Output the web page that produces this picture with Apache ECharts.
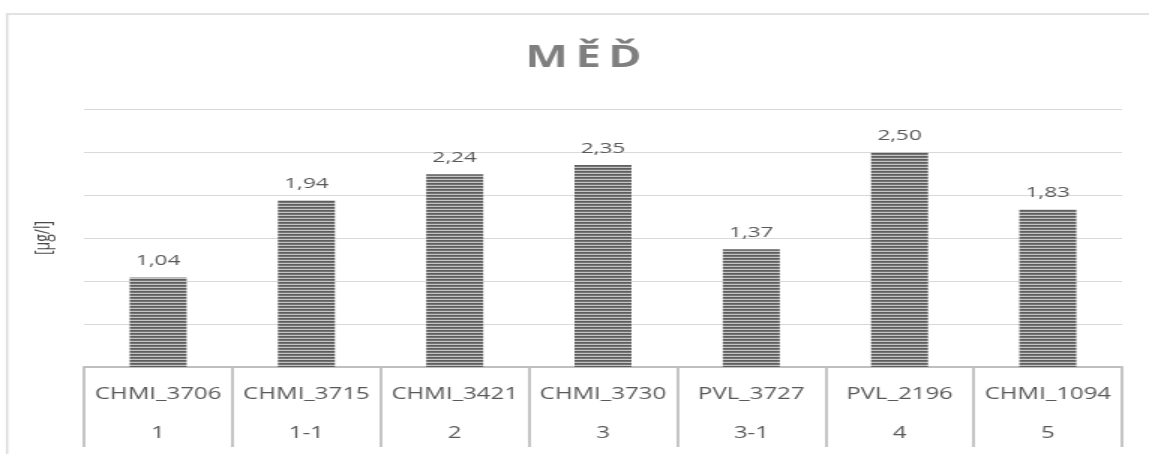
<!DOCTYPE html>
<html>
<head>
<meta charset="utf-8">
<script src="https://cdn.jsdelivr.net/npm/echarts@6/dist/echarts.min.js"></script>
<style>
  html, body { margin: 0; padding: 0; background: #ffffff; overflow: hidden; }
  #wrap { width: 1149px; height: 454px; overflow: hidden; }
  /* the chart is laid out on a narrower canvas and widened, giving the broad lettering */
  #chart { width: 766px; height: 454px; transform: scaleX(1.5); transform-origin: 0 0; }
</style>
</head>
<body>
<div id="wrap"><div id="chart"></div></div>
<script>
// Měď – sampling points
const stations = ['CHMI_3706', 'CHMI_3715', 'CHMI_3421', 'CHMI_3730', 'PVL_3727', 'PVL_2196', 'CHMI_1094'];
const profiles = ['1', '1-1', '2', '3', '3-1', '4', '5'];
const copper = [1.04, 1.94, 2.24, 2.35, 1.37, 2.50, 1.83];
const yTicks = [0, 0.5, 1, 1.5, 2, 2.5, 3];
const titleText = 'MĚĎ';

// horizontal stripe fill for the bars
function stripeFill() {
  const c = document.createElement('canvas');
  c.width = 4; c.height = 3;
  const g = c.getContext('2d');
  g.fillStyle = '#5e5e5e'; g.fillRect(0, 0, 4, 1);
  g.fillStyle = '#747474'; g.fillRect(0, 1, 4, 1);
  g.fillStyle = '#c4c4c4'; g.fillRect(0, 2, 4, 1);
  return c;
}

const chart = echarts.init(document.getElementById('chart'), null, { renderer: 'canvas' });
const fmt = v => v.toFixed(2).replace('.', ',');

// spaced-out title lettering
const spacedTitle = Array.from(titleText).map(ch => '{l|' + ch + '}').join('');

chart.setOption({
  animation: false,
  backgroundColor: '#ffffff',
  title: {
    text: spacedTitle,
    left: 384,
    textAlign: 'center',
    top: 38,
    textStyle: {
      fontFamily: 'Open Sans', fontWeight: 'bold', fontSize: 30, color: '#7f7f7f',
      rich: { l: { fontFamily: 'Open Sans', fontWeight: 'bold', fontSize: 30, color: '#7f7f7f', padding: [0, 2.5] } }
    }
  },
  graphic: [{
    type: 'rect',
    shape: { x: 4.7, y: 14, width: 2000, height: 1000 },
    style: { fill: 'none', stroke: '#d9d9d9', lineWidth: 1.4 },
    silent: true
  }],
  grid: { left: 56, right: 18, top: 109, bottom: 87 },
  xAxis: {
    type: 'category',
    data: stations,
    boundaryGap: true,
    axisLine: { lineStyle: { color: '#bfbfbf', width: 2 } },
    axisTick: { show: true, interval: 0, length: 80, lineStyle: { color: '#bfbfbf', width: 1.8 } },
    axisLabel: {
      interval: 0,
      margin: 7,
      formatter: (v, i) => '{n|' + v + '}\n{c|' + profiles[i] + '}',
      rich: {
        n: { fontFamily: 'Open Sans', fontSize: 16, lineHeight: 40, color: '#595959' },
        c: { fontFamily: 'Open Sans', fontSize: 16, lineHeight: 38, color: '#595959' }
      }
    }
  },
  yAxis: {
    type: 'value',
    min: yTicks[0],
    max: yTicks[yTicks.length - 1],
    interval: yTicks[1] - yTicks[0],
    name: '[µg/l]',
    nameLocation: 'middle',
    nameRotate: 90,
    nameGap: 20,
    nameTextStyle: { fontFamily: 'Open Sans', fontSize: 14, color: '#4a4a4a' },
    axisLine: { show: false },
    axisTick: { show: false },
    axisLabel: { show: false },
    splitLine: { lineStyle: { color: '#d9d9d9', width: 1.2 } }
  },
  series: [{
    type: 'bar',
    data: copper,
    barWidth: 38,
    itemStyle: { color: { image: stripeFill(), repeat: 'repeat' } },
    label: {
      show: true,
      position: 'top',
      distance: 9,
      formatter: p => fmt(p.value),
      fontFamily: 'Open Sans',
      fontSize: 15,
      color: '#595959'
    }
  }]
});
</script>
</body>
</html>
